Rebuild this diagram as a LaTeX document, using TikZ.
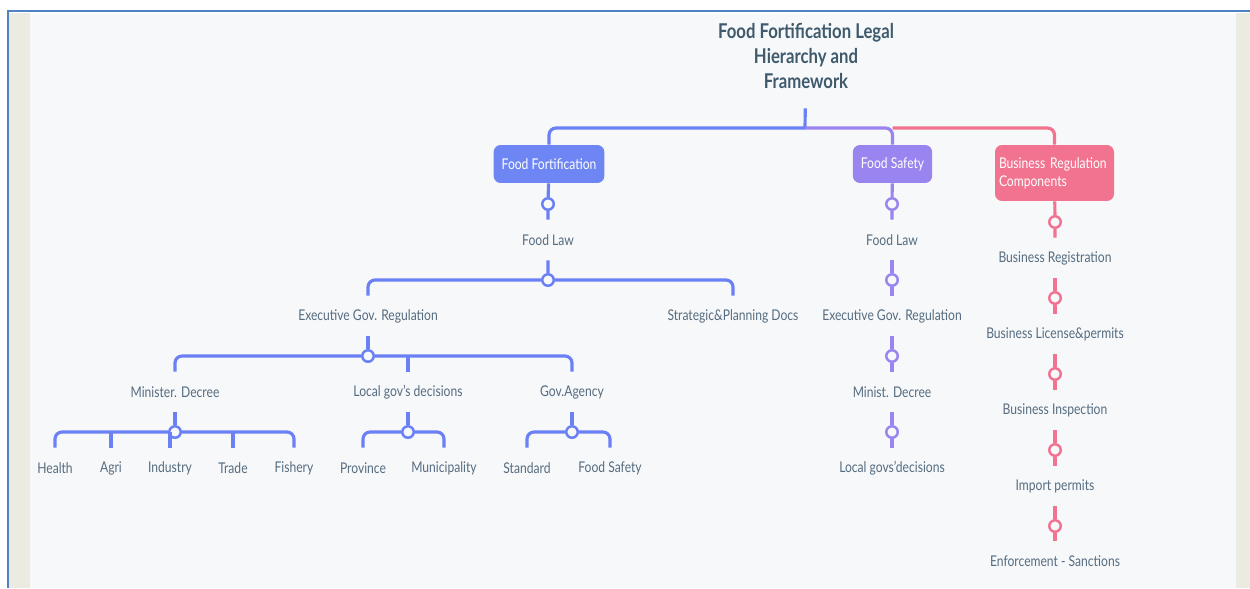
\documentclass[tikz,border=0pt]{standalone}
\usepackage{fontspec}
\setmainfont{Lato}[FakeStretch=0.82]
\usepackage{tikz}
\definecolor{ffblue}{HTML}{6C80F6}
\definecolor{ffbox}{HTML}{6E86F4}
\definecolor{fspurple}{HTML}{9A84F0}
\definecolor{brpink}{HTML}{F2738F}
\definecolor{labeltxt}{HTML}{566C80}
\definecolor{titletxt}{HTML}{3F5A6C}
\definecolor{panel}{HTML}{F6F8FA}
\definecolor{beige}{HTML}{ECEBE2}
\definecolor{frame}{HTML}{4E82C3}
\tikzset{
	lbl/.style={text=labeltxt,font=\fontsize{8.4}{10}\selectfont,minimum height=0.8cm,inner sep=0pt},
	jdot/.style={circle,draw=#1,line width=1.4pt,fill=panel,minimum size=0.23cm,inner sep=0pt},
	branch/.style={draw=#1,line width=1.8pt,rounded corners=4pt},
	topic/.style={fill=#1,rounded corners=4pt,text=white,font=\fontsize{8.4}{10.2}\selectfont,minimum height=0.76cm,inner xsep=0.16cm},
	heading/.style={text=titletxt,font=\bfseries\fontsize{11.6}{14.2}\selectfont,align=center,minimum height=2.08cm,inner sep=0pt}
}
\begin{document}
\begin{tikzpicture}[x=0.02cm,y=-0.02cm]
	% page and panel
	\fill[white] (0,0) rectangle (1250,588);
	\useasboundingbox (0,0) rectangle (1250,588);
	\fill[beige] (9,13) rectangle (30,588);
	\fill[beige] (1236,13) rectangle (1250,588);
	\fill[panel] (30,14) rectangle (1236,588);
	\draw[frame,line width=1.3pt] (8,588) -- (8,11) -- (1250,11);

	\node[heading] (title) at (806,56) {Food Fortification Legal\\Hierarchy and\\Framework};
	\coordinate (root) at (805,128);

	\node[topic=ffbox,minimum width=2.16cm] (ff) at (549,164) {Food Fortification};
	\node[topic=fspurple,minimum width=1.58cm] (fs) at (892.5,164) {Food Safety};
	\node[topic=brpink,minimum width=2.38cm,minimum height=1.12cm,text width=2.22cm,inner xsep=0.08cm,align=left] (br) at (1054.5,173) {Business Regulation\\Components};

	\draw[branch=ffblue] (title) -- (root);
	\draw[branch=ffblue] (root) -| (ff);
	\draw[branch=fspurple] (root) -| (fs);
	\draw[branch=brpink] (root -| fs) -| (br);

	% food fortification
	\node[jdot=ffblue] (c1) at (548,204) {};
	\node[lbl] (lawa) at (548,240) {Food Law};
	\node[jdot=ffblue] (c2) at (548,280) {};
	\node[lbl] (execa) at (368,316) {Executive Gov. Regulation};
	\node[lbl] (strat) at (733,316) {Strategic\&Planning Docs};
	\node[jdot=ffblue] (c3) at (368,356) {};
	\node[lbl] (mdec) at (175,392) {Minister. Decree};
	\node[lbl] (locdec) at (408,392) {Local gov's decisions};
	\node[lbl] (agency) at (572,392) {Gov.Agency};
	\node[jdot=ffblue] (c4) at (175,432) {};
	\node[jdot=ffblue] (c5) at (408,432) {};
	\node[jdot=ffblue] (c6) at (572,432) {};
	\foreach \n/\t/\x in {health/Health/55,agri/Agri/111,ind/Industry/170,trade/Trade/233,fish/Fishery/294,prov/Province/363,muni/Municipality/444,std/Standard/527,fsafe/Food Safety/610}
		\node[lbl] (\n) at (\x,468) {\t};

	\draw[branch=ffblue] (ff) -- (c1) -- (lawa) -- (c2);
	\draw[branch=ffblue] (c2) -| (execa);
	\draw[branch=ffblue] (c2) -| (strat);
	\draw[branch=ffblue] (execa) -- (c3);
	\draw[branch=ffblue] (c3) -| (mdec);
	\draw[branch=ffblue] (c3) -| (agency);
	\draw[branch=ffblue] (locdec) -- (locdec |- c3);
	\draw[branch=ffblue] (mdec) -- (c4);
	\draw[branch=ffblue] (c4) -| (health);
	\draw[branch=ffblue] (c4) -| (fish);
	\foreach \n in {agri,ind,trade}
		\draw[branch=ffblue] (\n) -- (\n |- c4);
	\draw[branch=ffblue] (locdec) -- (c5);
	\draw[branch=ffblue] (c5) -| (prov);
	\draw[branch=ffblue] (c5) -| (muni);
	\draw[branch=ffblue] (agency) -- (c6);
	\draw[branch=ffblue] (c6) -| (std);
	\draw[branch=ffblue] (c6) -| (fsafe);

	% food safety
	\node[jdot=fspurple] (s1) at (892,204) {};
	\node[lbl] (lawb) at (892,240) {Food Law};
	\node[jdot=fspurple] (s2) at (892,280) {};
	\node[lbl] (execb) at (892,316) {Executive Gov. Regulation};
	\node[jdot=fspurple] (s3) at (892,356) {};
	\node[lbl] (mdecb) at (892,392) {Minist. Decree};
	\node[jdot=fspurple] (s4) at (892,432) {};
	\node[lbl] (locb) at (892,468) {Local govs'decisions};
	\draw[branch=fspurple] (fs) -- (s1) -- (lawb);
	\draw[branch=fspurple] (lawb) -- (s2) -- (execb);
	\draw[branch=fspurple] (execb) -- (s3) -- (mdecb);
	\draw[branch=fspurple] (mdecb) -- (s4) -- (locb);

	% business regulation
	\node[jdot=brpink] (b1) at (1055,222) {};
	\node[lbl] (breg) at (1055,258) {Business Registration};
	\node[jdot=brpink] (b2) at (1055,298) {};
	\node[lbl] (blic) at (1055,334) {Business License\&permits};
	\node[jdot=brpink] (b3) at (1055,374) {};
	\node[lbl] (binsp) at (1055,410) {Business Inspection};
	\node[jdot=brpink] (b4) at (1055,450) {};
	\node[lbl] (imp) at (1055,486) {Import permits};
	\node[jdot=brpink] (b5) at (1055,526) {};
	\node[lbl] (enf) at (1055,561) {Enforcement - Sanctions};
	\draw[branch=brpink] (br) -- (b1) -- (breg);
	\draw[branch=brpink] (breg) -- (b2) -- (blic);
	\draw[branch=brpink] (blic) -- (b3) -- (binsp);
	\draw[branch=brpink] (binsp) -- (b4) -- (imp);
	\draw[branch=brpink] (imp) -- (b5) -- (enf);
\end{tikzpicture}
\end{document}
